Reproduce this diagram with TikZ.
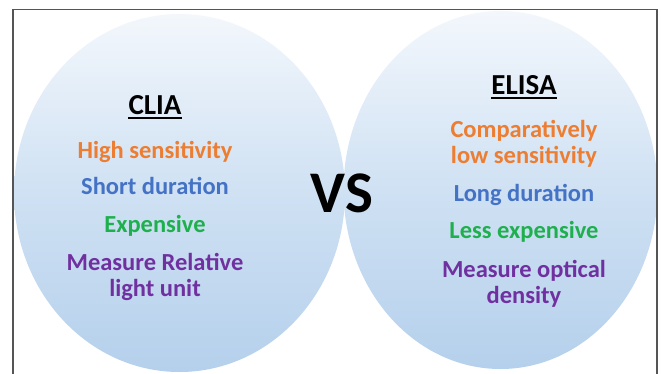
\documentclass[tikz,border=0pt]{standalone}
\usepackage{fontspec}
\setmainfont{Carlito}
\definecolor{ptorange}{HTML}{ED7D31}
\definecolor{ptblue}{HTML}{4472C4}
\definecolor{ptgreen}{HTML}{1FB04E}
\definecolor{ptpurple}{HTML}{7030A0}
\definecolor{bubtop}{HTML}{F3F7FC}
\definecolor{bubmid}{HTML}{CFE1F3}
\definecolor{bubbot}{HTML}{B5D0EC}
\definecolor{framegray}{HTML}{555555}
\begin{document}
\begin{tikzpicture}[x=1pt,y=-1pt,
  bubble/.style={top color=bubtop,bottom color=bubbot,middle color=bubmid,draw=none},
  title/.style={font=\fontsize{29}{32}\selectfont\bfseries,inner sep=0pt,anchor=base},
  item/.style={font=\fontsize{24.5}{26}\selectfont\bfseries,inner sep=0pt,anchor=base,align=center},
  uline/.style={line width=2pt,black}]
\useasboundingbox (0,0) rectangle (661,374);
\fill[white] (0,0) rectangle (661,374);

% two comparison bubbles
\shade[bubble] (179.5,193) ellipse [x radius=165.5,y radius=179];
\shade[bubble] (500.5,190) ellipse [x radius=157,y radius=179];

% left column (two-line items are placed by the baseline of their last line)
\node[title] (clia) at (155,115) {CLIA};
\draw[uline] ([yshift=-3.5pt]clia.base west) -- ([yshift=-3.5pt]clia.base east);
\node[item,text=ptorange] (l1) at (155,159) {High sensitivity};
\node[item,text=ptblue] (l2) at (155,195) {Short duration};
\node[item,text=ptgreen] (l3) at (155,233) {Expensive};
\node[item,text=ptpurple] (l4) at (155,296) {Measure Relative\\light unit};

% right column
\node[title] (elisa) at (524,95) {ELISA};
\draw[uline] ([yshift=-3.5pt]elisa.base west) -- ([yshift=-3.5pt]elisa.base east);
\node[item,text=ptorange] (r1) at (524,164) {Comparatively\\low sensitivity};
\node[item,text=ptblue] (r2) at (524,201) {Long duration};
\node[item,text=ptgreen] (r3) at (524,238) {Less expensive};
\node[item,text=ptpurple] (r4) at (524,303) {Measure optical\\density};

% centre label
\node[font=\fontsize{59}{64}\selectfont\bfseries,inner sep=0pt,anchor=base] (vs) at (342,213) {VS};

% outer frame, open at the bottom
\draw[framegray,line width=1.2pt] (13,380) -- (13,9.5) -- (657,9.5) -- (657,380);
\end{tikzpicture}
\end{document}
